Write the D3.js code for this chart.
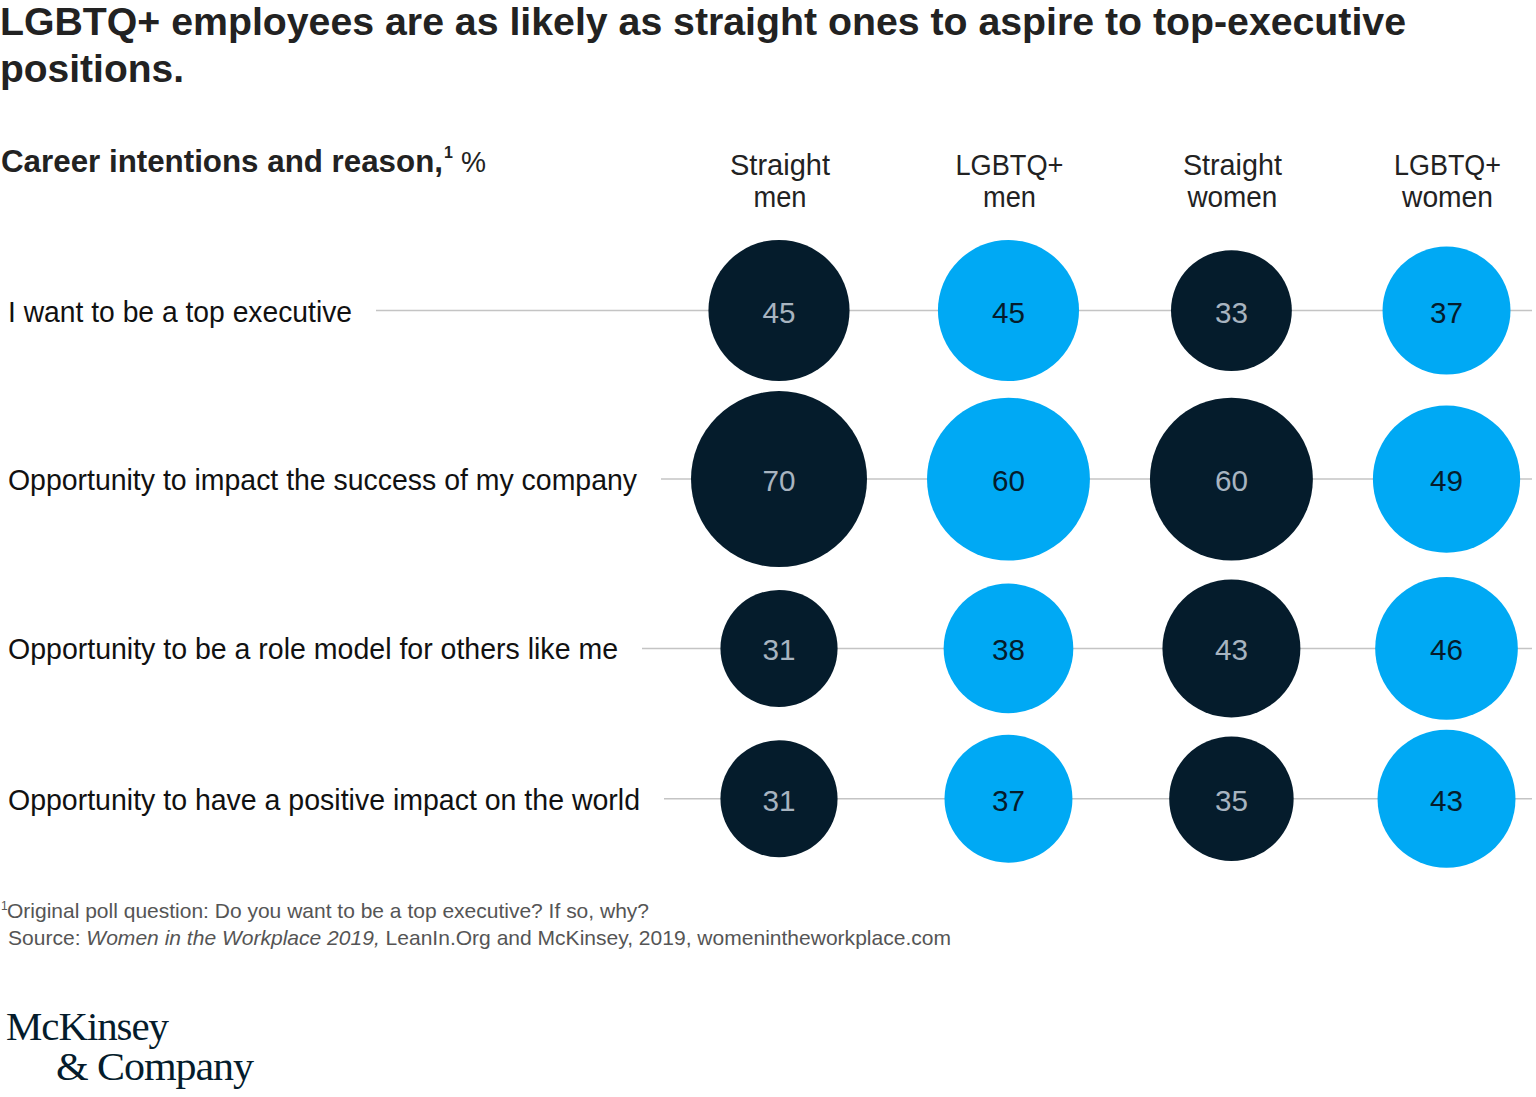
<!DOCTYPE html>
<html>
<head>
<meta charset="utf-8">
<script src="https://cdn.jsdelivr.net/npm/d3@7/dist/d3.min.js"></script>
<style>
  body { margin: 0; background: #fff; }
  svg { display: block; font-family: "Liberation Sans", Arial, sans-serif; }
</style>
</head>
<body>
<div id="chart"></div>
<script>
/* ── bubble grid: career intentions by group ─────────────── */

const groups  = ['Straight men', 'LGBTQ+ men', 'Straight women', 'LGBTQ+ women'];
const headers = [['Straight', 'men'], ['LGBTQ+', 'men'], ['Straight', 'women'], ['LGBTQ+', 'women']];
const reasons = [
  'I want to be a top executive',
  'Opportunity to impact the success of my company',
  'Opportunity to be a role model for others like me',
  'Opportunity to have a positive impact on the world'
];
// one array per group, in reason order (%)
const straightMen   = [45, 70, 31, 31];
const lgbtqMen      = [45, 60, 38, 37];
const straightWomen = [33, 60, 43, 35];
const lgbtqWomen    = [37, 49, 46, 43];
const seriesValues  = [straightMen, lgbtqMen, straightWomen, lgbtqWomen];

const W = 1536, H = 1097;
const DARK = '#051c2c', BLUE = '#00a9f4';

const svg = d3.select('#chart').append('svg')
  .attr('width', W).attr('height', H);

// squeeze text to the width it takes in the reference
function fit(sel, w) {
  sel.attr('textLength', w).attr('lengthAdjust', 'spacingAndGlyphs');
  return sel;
}

// Title
fit(svg.append('text').attr('x', 0).attr('y', 35)
  .attr('font-size', 38).attr('font-weight', 700).attr('fill', '#222')
  .text('LGBTQ+ employees are as likely as straight ones to aspire to top-executive'), 1406);
fit(svg.append('text').attr('x', 0).attr('y', 82)
  .attr('font-size', 38).attr('font-weight', 700).attr('fill', '#222')
  .text('positions.'), 184);

// Subtitle
fit(svg.append('text').attr('x', 1).attr('y', 172)
  .attr('font-size', 31).attr('font-weight', 700).attr('fill', '#222')
  .text('Career intentions and reason,'), 442);
svg.append('text').attr('x', 444).attr('y', 158)
  .attr('font-size', 16).attr('font-weight', 700).attr('fill', '#222').text('1');
fit(svg.append('text').attr('x', 461).attr('y', 172)
  .attr('font-size', 30).attr('fill', '#222').text('%'), 25);

// Scales
const r = d3.scaleSqrt().domain([0, 70]).range([0, 88]);

// Columns are packed by their biggest bubble
const colGap = 60;
let colLeft = 779 - r(d3.max(seriesValues[0]));
const colX = seriesValues.map(s => {
  const maxR = r(d3.max(s));
  const cx = colLeft + maxR;
  colLeft += 2 * maxR + colGap;
  return cx;
});
const x = d3.scaleOrdinal().domain(groups).range(colX);

// Rows are stacked by their biggest bubble
const gap = 10;
let rowTop = 240;
const rows = reasons.map((reason, i) => {
  const vals = seriesValues.map(s => s[i]);
  const maxR = r(d3.max(vals));
  const cy = rowTop + maxR;
  rowTop += 2 * maxR + gap;
  return { reason, cy, cells: groups.map((g, j) => ({ group: g, value: vals[j], j })) };
});

// Column headers
const headW = [[100, 53], [108, 53], [99, 90], [107, 91]];
groups.forEach((g, j) => {
  headers[j].forEach((line, k) => {
    fit(svg.append('text')
      .attr('x', x(g) + 1).attr('y', 175 + k * 32)
      .attr('text-anchor', 'middle')
      .attr('font-size', 30).attr('fill', '#222')
      .text(line), headW[j][k]);
  });
});

// Row labels + rule lines
const labelW = [344, 629, 610, 632];
const rowG = svg.selectAll('.row').data(rows).join('g')
  .attr('class', 'row')
  .attr('transform', d => `translate(0,${d.cy})`);

rowG.append('line')
  .attr('x1', (d, i) => 8 + labelW[i] + 24)
  .attr('x2', 1532)
  .attr('y1', 0).attr('y2', 0)
  .attr('stroke', '#c4c4c4')
  .attr('stroke-width', 1.5);

rowG.append('text')
  .attr('x', 8).attr('y', 11)
  .attr('font-size', 30).attr('fill', '#111')
  .text(d => d.reason)
  .each(function(d, i) { fit(d3.select(this), labelW[i]); });

// Bubbles
const cell = rowG.selectAll('.cell').data(d => d.cells).join('g')
  .attr('class', 'cell')
  .attr('transform', d => `translate(${x(d.group)},0)`);

cell.append('circle')
  .attr('r', d => r(d.value))
  .attr('fill', d => d.j % 2 === 0 ? DARK : BLUE);

cell.append('text')
  .attr('y', 12)
  .attr('text-anchor', 'middle')
  .attr('font-size', 30)
  .attr('fill', d => d.j % 2 === 0 ? '#a8b4c0' : DARK)
  .text(d => d.value)
  .each(function() { fit(d3.select(this), 33); });

// Footnotes
svg.append('text').attr('x', 1).attr('y', 910)
  .attr('font-size', 12).attr('fill', '#555').text('1');
fit(svg.append('text').attr('x', 7).attr('y', 918)
  .attr('font-size', 21).attr('fill', '#555')
  .text('Original poll question: Do you want to be a top executive? If so, why?'), 642);

const src = svg.append('text').attr('x', 8).attr('y', 945)
  .attr('font-size', 21).attr('fill', '#555');
src.append('tspan').text('Source: ');
src.append('tspan').attr('font-style', 'italic').text('Women in the Workplace 2019,');
src.append('tspan').text(' LeanIn.Org and McKinsey, 2019, womenintheworkplace.com');
fit(src, 943);

// Logo
fit(svg.append('text').attr('x', 6).attr('y', 1040)
  .attr('font-family', '"Liberation Serif", "DejaVu Serif", serif')
  .attr('font-size', 40).attr('fill', DARK).attr('letter-spacing', -1)
  .text('McKinsey'), 162);
fit(svg.append('text').attr('x', 56).attr('y', 1080)
  .attr('font-family', '"Liberation Serif", "DejaVu Serif", serif')
  .attr('font-size', 40).attr('fill', DARK).attr('letter-spacing', -1)
  .text('& Company'), 197);
</script>
</body>
</html>
